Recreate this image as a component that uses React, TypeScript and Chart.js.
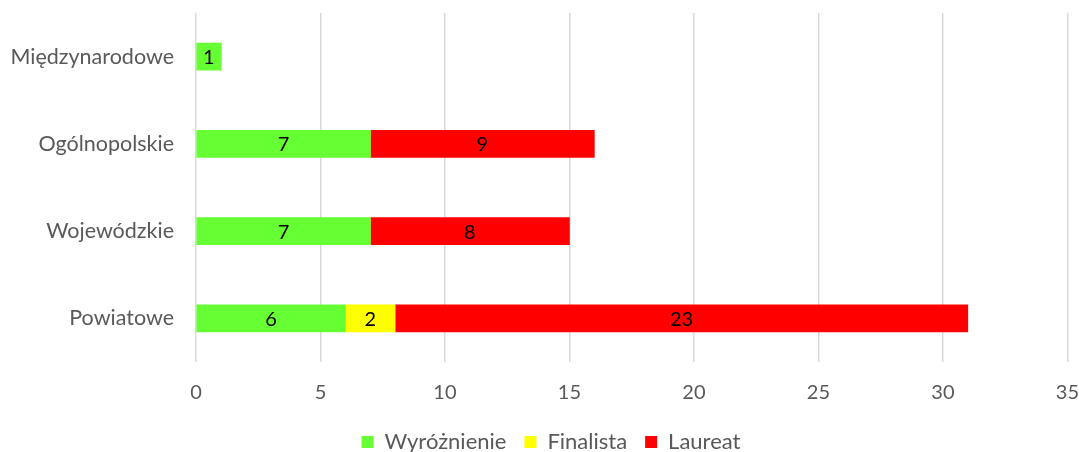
import React, { useEffect, useRef } from "react";
import { Chart, registerables } from "chart.js";

Chart.register(...registerables);

const categories = ["Międzynarodowe", "Ogólnopolskie", "Wojewódzkie", "Powiatowe"];
const wyroznienie = [1, 7, 7, 6];
const finalista = [0, 0, 0, 2];
const laureat = [0, 9, 8, 23];
const seriesNames = ["Wyróżnienie", "Finalista", "Laureat"];
const seriesColors = ["#66FF33", "#FFFF00", "#FF0000"];

const FONT = "Lato, 'Open Sans', sans-serif";

const valueLabels = {
  id: "valueLabels",
  afterDatasetsDraw(chart: any) {
    const ctx = chart.ctx;
    ctx.save();
    ctx.font = `20px ${FONT}`;
    ctx.fillStyle = "#000";
    ctx.textAlign = "center";
    ctx.textBaseline = "middle";
    chart.data.datasets.forEach((ds: any, di: number) => {
      const meta = chart.getDatasetMeta(di);
      meta.data.forEach((bar: any, i: number) => {
        const v = ds.data[i];
        if (!v) return;
        const cx = (bar.x + bar.base) / 2;
        ctx.fillText(String(v), cx, bar.y + 1);
      });
    });
    ctx.restore();
  },
};

const legendFix = {
  id: "legendFix",
  beforeLayout(chart: any) {
    const lg = chart.legend;
    if (lg && !lg._patched) {
      const orig = lg.fit.bind(lg);
      lg.fit = function () {
        orig();
        this.height = 39;
      };
      lg._patched = true;
    }
  },
  afterLayout(chart: any) {
    const lg = chart.legend;
    if (lg) {
      lg.left += 17;
      lg.right += 17;
    }
  },
};

export default function App() {
  const ref = useRef<HTMLCanvasElement>(null);
  useEffect(() => {
    const chart = new Chart(ref.current!, {
      type: "bar",
      data: {
        labels: categories,
        datasets: [wyroznienie, finalista, laureat].map((d, i) => ({
          label: seriesNames[i],
          data: d,
          backgroundColor: seriesColors[i],
          borderWidth: 0,
          barThickness: 27,
        })),
      },
      options: {
        indexAxis: "y",
        animation: false,
        responsive: false,
        maintainAspectRatio: false,
        layout: { padding: { top: 13, right: 11, left: 0, bottom: 0 } },
        scales: {
          x: {
            stacked: true,
            min: 0,
            max: 35,
            ticks: { stepSize: 5, color: "#595959", font: { family: FONT, size: 20 }, padding: 0 },
            grid: { color: "#d9d9d9", lineWidth: 1.5, drawTicks: true, tickLength: 19, tickColor: "rgba(0,0,0,0)" },
            border: { display: false },
            afterFit: (s: any) => { s.height = 51; },
          },
          y: {
            stacked: true,
            ticks: { color: "#595959", font: { family: FONT, size: 21.5 }, padding: 0 },
            grid: { display: false, drawTicks: true, tickLength: 22, tickColor: "rgba(0,0,0,0)" },
            border: { display: false },
            afterFit: (s: any) => { s.width = 196; },
          },
        },
        plugins: {
          legend: {
            position: "bottom",
            labels: {
              color: "#595959",
              font: { family: FONT, size: 22 },
              boxWidth: 12,
              boxHeight: 12,
              padding: 18,
            },
          },
          tooltip: { enabled: false },
        },
      },
      plugins: [valueLabels, legendFix],
    });
    return () => chart.destroy();
  }, []);
  return (
    <div style={{ position: "fixed", left: 0, top: 0, width: 1079, height: 452, background: "#fff" }}>
      <canvas ref={ref} width={1079} height={452} />
    </div>
  );
}
